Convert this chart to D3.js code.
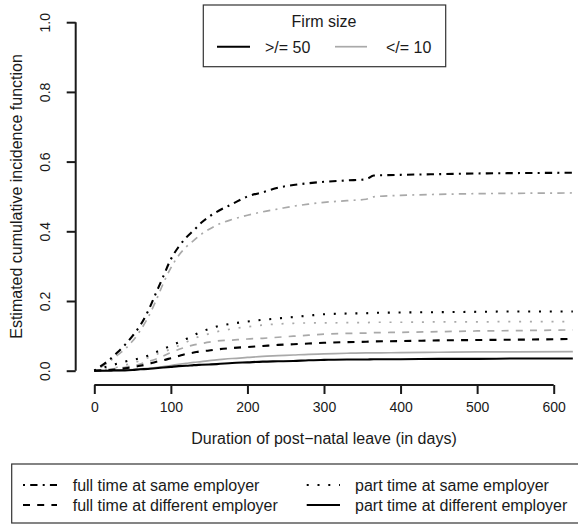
<!DOCTYPE html>
<html>
<head>
<meta charset="utf-8">
<script src="https://cdn.jsdelivr.net/npm/d3@7"></script>
<style>
  html, body { margin: 0; padding: 0; background: #fff; }
  svg { display: block; font-family: "Liberation Sans", Arial, Helvetica, sans-serif; }
</style>
</head>
<body>
<svg id="chart" width="578" height="525"></svg>
<script>
// Time grid (days of post-natal leave) shared by every curve
const days = [0, 10, 20, 30, 40, 50, 60, 70, 80, 90, 100, 110, 120, 130, 140, 150, 160,
  180, 200, 220, 240, 260, 280, 300, 330, 355, 365, 400, 450, 500, 550, 625];

// Cumulative incidence, firm size >= 50
const ftSameLarge = [0, .015, .032, .052, .074, .100, .130, .170, .220, .270, .320, .355, .382, .403, .425, .442, .456,
  .478, .500, .512, .525, .533, .538, .542, .546, .549, .560, .562, .564, .566, .567, .568];
const ftDiffLarge = [0, .001, .002, .004, .007, .010, .014, .019, .025, .030, .036, .042, .048, .052, .056, .058, .061,
  .065, .068, .071, .074, .076, .078, .080, .082, .083, .084, .085, .087, .088, .089, .091];
const ptSameLarge = [0, .008, .014, .020, .026, .031, .036, .043, .053, .062, .072, .081, .091, .102, .112, .120, .127,
  .135, .141, .146, .150, .154, .158, .162, .164, .165, .166, .167, .168, .169, .170, .170];
const ptDiffLarge = [0, 0, 0, .001, .001, .002, .004, .005, .007, .009, .011, .013, .014, .016, .017, .018, .019,
  .022, .024, .026, .027, .028, .030, .031, .032, .032, .033, .033, .034, .034, .035, .035];

// Cumulative incidence, firm size <= 10
const ftSameSmall = [0, .012, .027, .044, .062, .085, .115, .152, .198, .250, .295, .330, .355, .374, .392, .406, .418,
  .434, .446, .456, .464, .472, .478, .483, .488, .492, .499, .503, .506, .508, .509, .510];
const ftDiffSmall = [0, .002, .004, .007, .010, .014, .019, .026, .033, .042, .052, .061, .068, .074, .078, .082, .085,
  .088, .091, .093, .096, .099, .102, .105, .107, .108, .109, .110, .112, .114, .115, .117];
const ptSameSmall = [0, .003, .006, .010, .016, .022, .029, .037, .046, .054, .062, .072, .082, .092, .100, .106, .112,
  .120, .126, .131, .134, .136, .137, .137, .138, .138, .139, .139, .140, .140, .141, .141];
const ptDiffSmall = [0, 0, .001, .001, .002, .003, .005, .007, .009, .012, .015, .018, .021, .024, .026, .029, .031,
  .035, .038, .041, .043, .045, .047, .048, .050, .051, .051, .052, .053, .054, .054, .055];

const xTicks = [0, 100, 200, 300, 400, 500, 600];
const yTicks = [0, 0.2, 0.4, 0.6, 0.8, 1.0];

const firmSizes = [">/= 50", "</= 10"];
const outcomes = ["full time at same employer", "full time at different employer",
  "part time at same employer", "part time at different employer"];

// Line styles per outcome and per firm size
const dashes = {
  "full time at same employer": "2,5.2,7.3,5.2",
  "full time at different employer": "7,7.2",
  "part time at same employer": "2,8.8",
  "part time at different employer": null
};
const sizeStyle = {
  ">/= 50": { color: "#000", width: 2.1 },
  "</= 10": { color: "#a9a9a9", width: 1.7 }
};

const series = [
  { size: ">/= 50", outcome: outcomes[0], values: ftSameLarge },
  { size: ">/= 50", outcome: outcomes[1], values: ftDiffLarge },
  { size: ">/= 50", outcome: outcomes[2], values: ptSameLarge },
  { size: ">/= 50", outcome: outcomes[3], values: ptDiffLarge },
  { size: "</= 10", outcome: outcomes[0], values: ftSameSmall },
  { size: "</= 10", outcome: outcomes[1], values: ftDiffSmall },
  { size: "</= 10", outcome: outcomes[2], values: ptSameSmall },
  { size: "</= 10", outcome: outcomes[3], values: ptDiffSmall }
];

const svg = d3.select("#chart");
const ink = "#1a1a1a";
const labelSize = "16px";
const tickSize = "14px";

const x = d3.scaleLinear().domain([0, 600]).range([94.3, 553.7]);
const y = d3.scaleLinear().domain([0, 1]).range([370.7, 22.2]);

// Curves: small firms first so the black lines sit on top
const line = d3.line().x((d, i) => x(days[i])).y(d => y(d)).curve(d3.curveMonotoneX);
const order = series.filter(s => s.size === "</= 10").concat(series.filter(s => s.size === ">/= 50"));
svg.append("g").selectAll("path").data(order).join("path")
  .attr("d", d => line(d.values))
  .attr("fill", "none")
  .attr("stroke", d => sizeStyle[d.size].color)
  .attr("stroke-width", d => sizeStyle[d.size].width)
  .attr("stroke-dasharray", d => dashes[d.outcome])
  .attr("stroke-linecap", "butt");

// Axes
const xAxis = svg.append("g").attr("transform", "translate(0,385)")
  .call(d3.axisBottom(x).tickValues(xTicks).tickSize(9).tickPadding(8).tickFormat(d3.format("d")));
const yAxis = svg.append("g").attr("transform", "translate(75.7,0)")
  .call(d3.axisLeft(y).tickValues(yTicks).tickSize(9).tickPadding(6).tickFormat(d3.format(".1f")));
[xAxis, yAxis].forEach(g => {
  g.select(".domain").attr("stroke", ink).attr("stroke-width", 2);
  g.selectAll(".tick line").attr("stroke", ink).attr("stroke-width", 2);
  g.selectAll(".tick text").attr("fill", ink).style("font-size", tickSize);
});
xAxis.select(".domain").attr("d", `M${x(0)},0H${x(600)}`);
yAxis.select(".domain").attr("d", `M0,${y(0)}V${y(1)}`);
yAxis.selectAll(".tick text")
  .attr("x", null).attr("dy", "0.35em")
  .attr("text-anchor", "middle")
  .attr("transform", "translate(-30.7,0) rotate(-90)");

// Axis titles
svg.append("text")
  .attr("x", (x(0) + x(600)) / 2).attr("y", 443.5)
  .attr("text-anchor", "middle").attr("fill", ink).style("font-size", labelSize)
  .text("Duration of post\u2212natal leave (in days)");
svg.append("text")
  .attr("transform", `translate(22,${(y(0) + y(1)) / 2}) rotate(-90)`)
  .attr("text-anchor", "middle").attr("fill", ink).style("font-size", labelSize)
  .text("Estimated cumulative incidence function");

// Legend: firm size
const lg1 = svg.append("g");
lg1.append("rect").attr("x", 203.3).attr("y", 5).attr("width", 242.4).attr("height", 61.7)
  .attr("fill", "#fff").attr("stroke", "#333").attr("stroke-width", 1.2);
lg1.append("text").attr("x", 324).attr("y", 26.5).attr("text-anchor", "middle")
  .attr("fill", ink).style("font-size", labelSize).text("Firm size");
const sizeKeys = [{ x1: 217, x2: 250, tx: 265 }, { x1: 335, x2: 367, tx: 386 }];
firmSizes.forEach((s, i) => {
  const k = sizeKeys[i];
  lg1.append("line").attr("x1", k.x1).attr("x2", k.x2).attr("y1", 46.7).attr("y2", 46.7)
    .attr("stroke", sizeStyle[s].color).attr("stroke-width", sizeStyle[s].width);
  lg1.append("text").attr("x", k.tx).attr("y", 52.5).attr("fill", ink)
    .style("font-size", labelSize).text(s);
});

// Legend: outcome
const lg2 = svg.append("g");
lg2.append("rect").attr("x", 11.7).attr("y", 464).attr("width", 600).attr("height", 59)
  .attr("fill", "#fff").attr("stroke", "#333").attr("stroke-width", 1.2);
const outKeys = [
  { x1: 23, x2: 57, tx: 72.7, ry: 485 },
  { x1: 23, x2: 57, tx: 72.7, ry: 505 },
  { x1: 306.7, x2: 340, tx: 355, ry: 485 },
  { x1: 306.7, x2: 340, tx: 355, ry: 505 }
];
outcomes.forEach((o, i) => {
  const k = outKeys[i];
  lg2.append("line").attr("x1", k.x1).attr("x2", k.x2).attr("y1", k.ry).attr("y2", k.ry)
    .attr("stroke", "#000").attr("stroke-width", 1.8)
    .attr("stroke-dasharray", dashes[o]);
  lg2.append("text").attr("x", k.tx).attr("y", k.ry + 5.5).attr("fill", ink)
    .style("font-size", labelSize).text(o);
});
</script>
</body>
</html>
